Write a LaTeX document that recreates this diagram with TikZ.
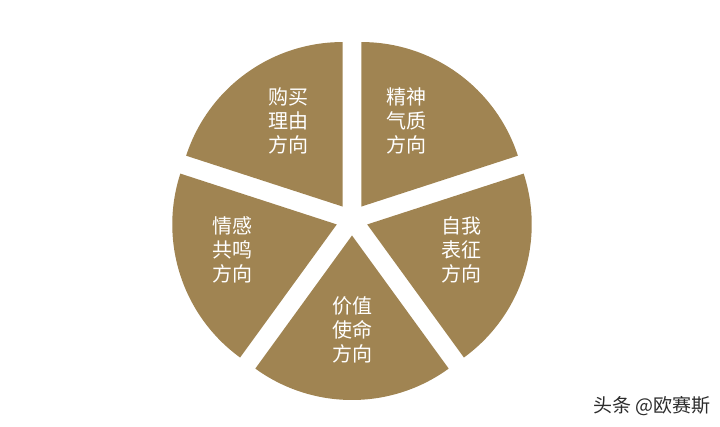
\documentclass[tikz,border=0pt]{standalone}
\usepackage{fontspec}
\newfontfamily\cjk{Noto Sans CJK SC}
\usetikzlibrary{calc}
\definecolor{piegold}{HTML}{A08452}
\definecolor{markgray}{HTML}{2B2B2B}

\begin{document}
\begin{tikzpicture}[%
        x=1pt, y=1pt,
        every node/.style={align=center, inner sep=0pt},
        label/.style={text=white, font=\cjk\fontsize{20}{24}\selectfont},
        slice/.style={fill=piegold}
      ]
      \useasboundingbox (0,0) rectangle (720,427);
      \coordinate (c) at (352,207.5);
      % five exploded slices
      \foreach \b in {54,126,198,270,342} {
        \fill[slice] ($(c)+(\b:16)$) -- ++(\b-36:164.5)
          arc[start angle=\b-36, end angle=\b+36, radius=164.5] -- cycle;
      }
      \node (buy) [label] at (288,306) {购买\\理由\\方向};
      \node (spirit) [label] at (406,306) {精神\\气质\\方向};
      \node (self) [label] at (461,177) {自我\\表征\\方向};
      \node (value) [label] at (352,97) {价值\\使命\\方向};
      \node (emotion) [label] at (232,177) {情感\\共鸣\\方向};
      \node (mark) [text=markgray, font=\cjk\fontsize{19}{20}\selectfont] at (652,21) {头条 @欧赛斯};
    \end{tikzpicture}
\end{document}
